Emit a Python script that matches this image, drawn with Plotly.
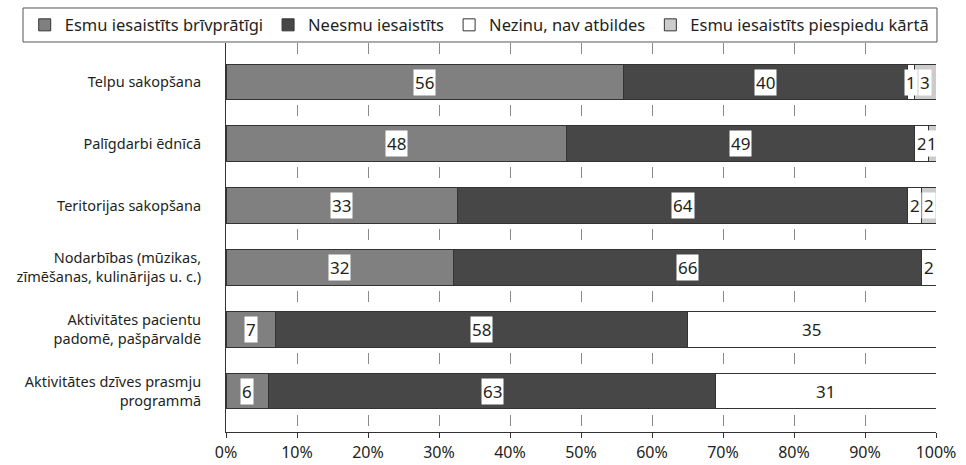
import plotly.graph_objects as go

# Survey: involvement of patients in various activities (% of respondents)
categories = [
    "Telpu sakopšana",
    "Palīgdarbi ēdnīcā",
    "Teritorijas sakopšana",
    "Nodarbības (mūzikas,<br>zīmēšanas, kulinārijas u. c.)",
    "Aktivitātes pacientu<br>padomē, pašpārvaldē",
    "Aktivitātes dzīves prasmju<br>programmā",
]
voluntary = [56, 48, 33, 32, 7, 6]
not_involved = [40, 49, 64, 66, 58, 63]
dont_know = [1, 2, 2, 2, 35, 31]
forced = [3, 1, 2, 0, 0, 0]

series_names = [
    "Esmu iesaistīts brīvprātīgi",
    "Neesmu iesaistīts",
    "Nezinu, nav atbildes",
    "Esmu iesaistīts piespiedu kārtā",
]
series_values = [voluntary, not_involved, dont_know, forced]
series_colors = ["#808080", "#474747", "#ffffff", "#cccccc"]

FONT = "Noto Sans"
TEXT = "#231f20"

fig = go.Figure()
for name, vals, col in zip(series_names, series_values, series_colors):
    fig.add_trace(go.Bar(
        name=name, y=categories, x=vals, orientation="h",
        marker=dict(color=col, line=dict(color="#333333", width=1)),
        width=0.58, hoverinfo="skip",
    ))

# value labels centred in each segment (segments normalised to 100 %)
annotations = []
for i, cat in enumerate(categories):
    row = [s[i] for s in series_values]
    total = sum(row)
    cum = 0.0
    for v in row:
        if v > 0:
            share = v / total * 100
            annotations.append(dict(
                x=cum + share / 2, y=cat, xref="x", yref="y",
                text=str(v), showarrow=False, bgcolor="white",
                borderpad=1, font=dict(family=FONT, size=17, color=TEXT),
            ))
            cum += share

fig.update_layout(
    width=966, height=465,
    margin=dict(l=226, r=30, t=43, b=33, autoexpand=False),
    barmode="stack", barnorm="percent",
    plot_bgcolor="white", paper_bgcolor="white",
    font=dict(family=FONT, color=TEXT),
    annotations=annotations,
    showlegend=True,
    legend=dict(
        orientation="h", x=-0.2835, xanchor="left", y=1.046, yanchor="middle",
        font=dict(family=FONT, size=16.5, color=TEXT),
        bgcolor="rgba(0,0,0,0)", borderwidth=0, traceorder="normal",
        itemwidth=30,
    ),
    # frame around the legend
    shapes=[dict(
        type="rect", xref="paper", yref="paper",
        x0=-0.2859, x1=1.0014, y0=1.0026, y1=1.09,
        line=dict(color="#555555", width=1), fillcolor="rgba(0,0,0,0)",
    )],
)

fig.update_xaxes(
    range=[0, 100], dtick=10, ticksuffix="%",
    showline=True, linecolor="#333333", linewidth=1,
    ticks="outside", ticklen=5, tickcolor="#333333",
    ticklabelstandoff=1,
    showgrid=True, gridcolor="#8a8a8a", gridwidth=1, griddash="11px,51px",
    zeroline=False, tickfont=dict(family=FONT, size=16, color=TEXT),
)
fig.update_yaxes(
    type="category", categoryorder="array", categoryarray=categories,
    range=[5.663, -0.631],
    showline=True, linecolor="#333333", linewidth=1,
    ticks="", showgrid=False, ticklabelstandoff=21,
    tickfont=dict(family=FONT, size=14.5, color=TEXT),
)

fig.write_html("out.html")
